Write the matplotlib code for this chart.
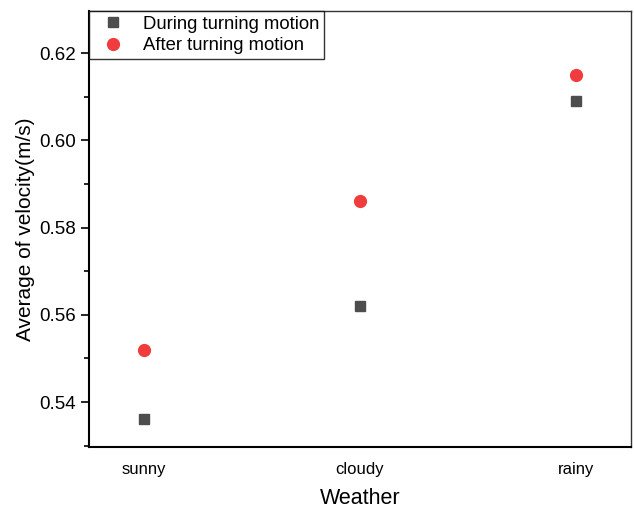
import matplotlib.pyplot as plt
from matplotlib.ticker import MultipleLocator

plt.rcParams['font.family'] = ['Liberation Sans', 'DejaVu Sans']

# data
weather = ['sunny', 'cloudy', 'rainy']
during_turning = [0.536, 0.562, 0.609]
after_turning = [0.552, 0.586, 0.615]

fig = plt.figure(figsize=(6.34, 5.08), dpi=100)
ax = fig.add_axes([0.1404, 0.121, 0.8546, 0.857])

x = range(len(weather))
ax.plot(x, during_turning, linestyle='none', marker='s', markersize=7.5,
        color='#4d4d4d', label='During turning motion')
ax.plot(x, after_turning, linestyle='none', marker='o', markersize=8.5,
        color='#f03c3c', label='After turning motion')

ax.set_xlim(-0.255, 2.255)
ax.set_ylim(0.5298, 0.6296)
ax.set_xticks(list(x))
ax.set_xticklabels(weather, fontsize=12)
ax.tick_params(axis='x', length=0, pad=11)
ax.yaxis.set_major_locator(MultipleLocator(0.02))
ax.yaxis.set_minor_locator(MultipleLocator(0.01))
ax.yaxis.set_major_formatter(plt.FormatStrFormatter('%.2f'))
ax.tick_params(axis='y', which='major', direction='out', length=6, width=1.2,
               labelsize=13.5)
ax.tick_params(axis='y', which='minor', direction='out', length=3.5, width=1.2)

ax.set_xlabel('Weather', fontsize=15.5, labelpad=8)
ax.set_ylabel('Average of velocity(m/s)', fontsize=15, labelpad=3)

for side in ['left', 'bottom']:
    ax.spines[side].set_linewidth(1.5)
for side in ['top', 'right']:
    ax.spines[side].set_linewidth(1.0)
    ax.spines[side].set_color('#333333')

leg = ax.legend(loc='upper left', bbox_to_anchor=(0.0, 1.0), fontsize=13.3,
                frameon=True, fancybox=False, borderaxespad=0,
                handletextpad=0.55, borderpad=0.25, labelspacing=0.25,
                handlelength=2.1)
leg.get_frame().set_edgecolor('black')
leg.get_frame().set_linewidth(1.0)

fig.savefig('out.png', dpi=100, facecolor='white')
